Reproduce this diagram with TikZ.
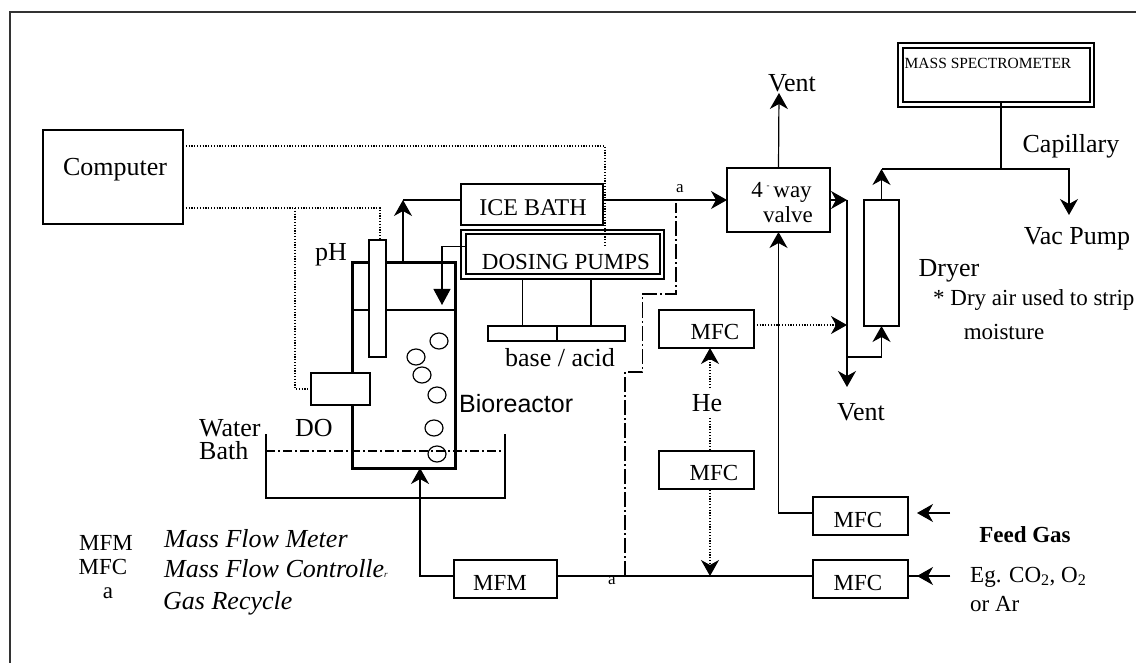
\documentclass[tikz,border=0pt]{standalone}
\usepackage{fontspec}
\setmainfont{Liberation Serif}
\newfontfamily\arialfont{Liberation Sans}
\usetikzlibrary{arrows.meta,positioning,calc,shapes.geometric}

\tikzset{
  box/.style={draw, fill=white, line width=1.2pt, inner sep=0pt, outer sep=0pt},
  lbl/.style={inner sep=0pt, font=\fontsize{23}{24}\selectfont},
  biglbl/.style={inner sep=0pt, font=\fontsize{26}{27}\selectfont},
  itlbl/.style={inner sep=0pt, anchor=west, font=\fontsize{26}{27}\selectfont\itshape},
  smalllbl/.style={inner sep=0pt, font=\fontsize{17}{18}\selectfont},
  pipe/.style={line width=1.2pt},
  sig/.style={line width=1.2pt, dash pattern=on 1.2pt off 1.6pt},
  recycle/.style={line width=1.2pt, dash pattern=on 15pt off 3pt on 2pt off 3pt},
  level/.style={line width=1.2pt, dash pattern=on 9pt off 3pt on 2pt off 3pt},
  flow/.style={pipe, -{Stealth[length=16pt,width=18pt,inset=5pt]}},
  sigflow/.style={sig, -{Stealth[length=16pt,width=18pt,inset=5pt]}}
}

\begin{document}
\begin{tikzpicture}[x=1pt, y=-1pt]
  \useasboundingbox (0,0) rectangle (1136,663);
  % frame
  \draw[line width=1.2pt, black!80] (10,663) -- (10,12) -- (1136,12);

  % bioreactor
  \coordinate (liqL) at (352,310);
  \coordinate (liqR) at (455,310);
  \coordinate (wallTL) at (352,263);
  \coordinate (wallTR) at (455,263);
  \coordinate (wallBL) at (352,468);
  \coordinate (wallBR) at (455,468);
  \draw[pipe] (liqL) -- (liqR);
  \draw[line width=3pt, line join=miter] (wallTL) -- (wallTR) -- (wallBR) -- (wallBL) -- cycle;
  \node[box, minimum width=17pt, minimum height=117pt] (probe) at (377.5,298.5) {};
  \node[box, minimum width=59pt, minimum height=32pt] (dosensor) at (340.5,389) {};
  \foreach \x/\y [count=\i] in {439/341, 416/357, 422/375, 437/395, 434/428, 437/454} {
    \node[draw, line width=1.2pt, ellipse, minimum width=18pt, minimum height=16pt, inner sep=0pt] (bubble\i) at (\x,\y) {};
  }

  % water bath
  \coordinate (bathTL) at (266,434);
  \coordinate (bathTR) at (505,434);
  \coordinate (bathBL) at (266,498);
  \coordinate (bathBR) at (505,498);
  \coordinate (levelL) at (266,451);
  \coordinate (levelR) at (505,451);
  \draw[pipe] (bathTL) -- (bathBL) -- (bathBR) -- (bathTR);
  \draw[level] (levelL) -- (levelR);

  % boxes
  \node[box, minimum width=140pt, minimum height=94pt] (computer) at (113,177) {};
  \node[box, minimum width=142pt, minimum height=41pt] (icebath) at (532,204.5) {};
  \node[box, minimum width=203pt, minimum height=49pt] (dosingout) at (562.5,254.5) {};
  \node[box, line width=2pt, minimum width=194pt, minimum height=40pt] (dosing) at (563,254) {};
  \node[box, minimum width=69pt, minimum height=15pt] (base) at (522.5,333.5) {};
  \node[box, minimum width=68pt, minimum height=15pt] (acid) at (591,333.5) {};
  \node[box, minimum width=103pt, minimum height=64pt] (valve) at (778.5,200) {};
  \node[box, minimum width=196pt, minimum height=64pt] (massout) at (996,75) {};
  \node[box, line width=2pt, minimum width=187pt, minimum height=54pt] (mass) at (996.5,75) {};
  \node[box, minimum width=35pt, minimum height=126pt] (dryer) at (881.5,263) {};
  \node[box, minimum width=95pt, minimum height=38pt] (mfcup) at (706.5,329) {};
  \node[box, minimum width=95pt, minimum height=38pt] (mfche) at (706.5,470) {};
  \node[box, minimum width=95pt, minimum height=38pt] (mfcfeedA) at (860.5,516) {};
  \node[box, minimum width=95pt, minimum height=38pt] (mfcfeedB) at (860.5,579) {};
  \node[box, minimum width=103pt, minimum height=38pt] (mfm) at (505.5,579) {};

  % junctions and free ends
  \coordinate (ventTop) at (779,93);
  \coordinate (ventBot) at (847,387);
  \coordinate (ventJoin) at (847,200);
  \coordinate (dryJoin) at (847,357);
  \coordinate (vacEnd) at (1069,215);
  \coordinate (capJoin) at (1001,169);
  \coordinate (dryTop) at (881.5,169);
  \coordinate (feedA) at (950,513);
  \coordinate (feedAtip) at (917,513);
  \coordinate (feedB) at (950,576);
  \coordinate (feedBtip) at (917,576);
  \coordinate (heStart) at (710,388);
  \coordinate (heMid) at (710,418);
  \coordinate (heEnd) at (710,450);
  \coordinate (heLow) at (710,490);
  \coordinate (heTip) at (710,576);
  \coordinate (recEnd) at (676,203);
  \coordinate (outStart) at (403,263);
  \coordinate (outCorner) at (403,200);
  \coordinate (inTip) at (420,468);
  \coordinate (doseTip) at (442,305);
  \coordinate (ctrlTop) at (605,146);
  \coordinate (ctrlEnd) at (605,245);
  \coordinate (phJoin) at (380,208);
  \coordinate (doJoin) at (295,208);
  \coordinate (doCorner) at (295,389);
  \coordinate (dryMark) at (847,325);

  % gas lines
  \draw[flow] (outStart) -- (outCorner);
  \draw[pipe] (outCorner) -- ([yshift=4.5pt]icebath.west);
  \draw[flow] ([yshift=4.5pt]icebath.east) -- (valve.west);
  \draw[flow] (mass.south -| capJoin) -- (capJoin) -| (vacEnd);
  \draw[pipe] (capJoin) -- (dryTop);
  \draw[flow] (dryer.north) -- (dryTop);
  \draw[flow] (valve.north) -- (ventTop);
  \draw[flow] (valve.east) -- (ventJoin);
  \draw[flow] (ventJoin) -- (ventBot);
  \draw[flow] (dryJoin) -| (dryer.south);
  \draw[flow] ([yshift=3pt]mfcfeedA.west) -| (valve.south);
  \draw[flow] (feedA) -- (feedAtip);
  \draw[pipe] (feedB) -- ([yshift=3pt]mfcfeedB.east);
  \draw[flow] (feedB) -- (feedBtip);
  \draw[pipe] ([yshift=3pt]mfcfeedB.west) -- ([yshift=3pt]mfm.east);
  \draw[flow] ([yshift=3pt]mfm.west) -| (inTip);
  \draw[flow, -{Stealth[length=16pt,width=17pt,inset=0pt]}] ([yshift=7.5pt]dosing.west) -| (doseTip);
  \draw[pipe] (dosingout.south -| base.north) -- (base.north);
  \draw[pipe] (dosingout.south -| acid.north) -- (acid.north);

  % recycle
  \draw[recycle] (625,576) -- (625,372) -- (642.5,372) -- (642.5,294) -- (676,294) -- (recEnd);

  % signal lines
  \draw[sig] ([yshift=31pt]computer.east) -- (ctrlTop) -- (ctrlEnd);
  \draw[sig] ([yshift=-31pt]computer.east) -- (phJoin) -- (phJoin |- probe.north);
  \draw[sig] (doJoin) -- (doCorner) -- (dosensor.west);
  \draw[sigflow] ([yshift=4pt]mfcup.east) -- (dryMark);
  \draw[sigflow] (heStart) -- (mfcup.south -| heStart);
  \draw[sig] (heMid) -- (heEnd);
  \draw[sigflow] (heLow) -- (heTip);

  % labels
  \node[biglbl] (computertxt) at (115,169.5) {Computer};
  \node[lbl, font=\fontsize{24}{25}\selectfont] (icetxt) at (533,207.5) {ICE BATH};
  \node[lbl] (dosingtxt) at (566,261.5) {DOSING PUMPS};
  \node[biglbl] (basetxt) at (560,357.5) {base / acid};
  \node[lbl] (valveA) at (781.5,192) {4\,\raisebox{9pt}{\fontsize{9}{9}\selectfont -}\,way};
  \node[lbl] (valveB) at (788,215) {valve};
  \node[inner sep=0pt, font=\fontsize{15.5}{16}\selectfont] (masstxt) at (988,63) {MASS SPECTROMETER};
  \node[biglbl] (ventA) at (792,83) {Vent};
  \node[biglbl] (ventB) at (861,412) {Vent};
  \node[biglbl] (captxt) at (1071,146) {Capillary};
  \node[biglbl] (vactxt) at (1077,239) {Vac Pump};
  \node[biglbl] (dryertxt) at (949,271) {Dryer};
  \node[lbl, anchor=west] (stripA) at (933,300) {* Dry air used to strip};
  \node[lbl] (stripB) at (1004,332) {moisture};
  \node[lbl] (mfcupt) at (715,332) {MFC};
  \node[biglbl] (hetxt) at (707,403) {He};
  \node[lbl] (mfchet) at (714,473) {MFC};
  \node[lbl] (mfcfeedAt) at (858,520) {MFC};
  \node[lbl] (mfcfeedBt) at (858,583) {MFC};
  \node[lbl] (mfmt) at (500,583) {MFM};
  \node[lbl, font=\fontsize{23}{24}\selectfont\bfseries] (feedtxt) at (1025,535) {Feed Gas};
  \node[lbl, anchor=west] (egtxt) at (970,577) {Eg. CO\textsubscript{2}, O\textsubscript{2}};
  \node[lbl, anchor=west] (ortxt) at (970,604) {or Ar};
  \node[smalllbl] (recA) at (680,189) {a};
  \node[smalllbl] (recB) at (612,581) {a};
  \node[biglbl] (phtxt) at (331,255) {pH};
  \node[biglbl] (dotxt) at (314,428) {DO};
  \node[biglbl, anchor=west] (watertxt) at (199,428) {Water};
  \node[biglbl, anchor=west] (bathtxt) at (199,451) {Bath};
  \node[lbl, font=\fontsize{25}{26}\selectfont\arialfont, anchor=west] (biotxt) at (459,404) {Bioreactor};
  % legend
  \node[lbl] (legA) at (106,543) {MFM};
  \node[lbl] (legB) at (103,567) {MFC};
  \node[lbl] (legC) at (108,593) {a};
  \node[itlbl] (legAt) at (164,539) {Mass Flow Meter};
  \node[itlbl] (legBt) at (164,569) {Mass Flow Controlle{\fontsize{9}{9}\selectfont r}};
  \node[itlbl] (legCt) at (163,603) {Gas Recycle};
\end{tikzpicture}
\end{document}
